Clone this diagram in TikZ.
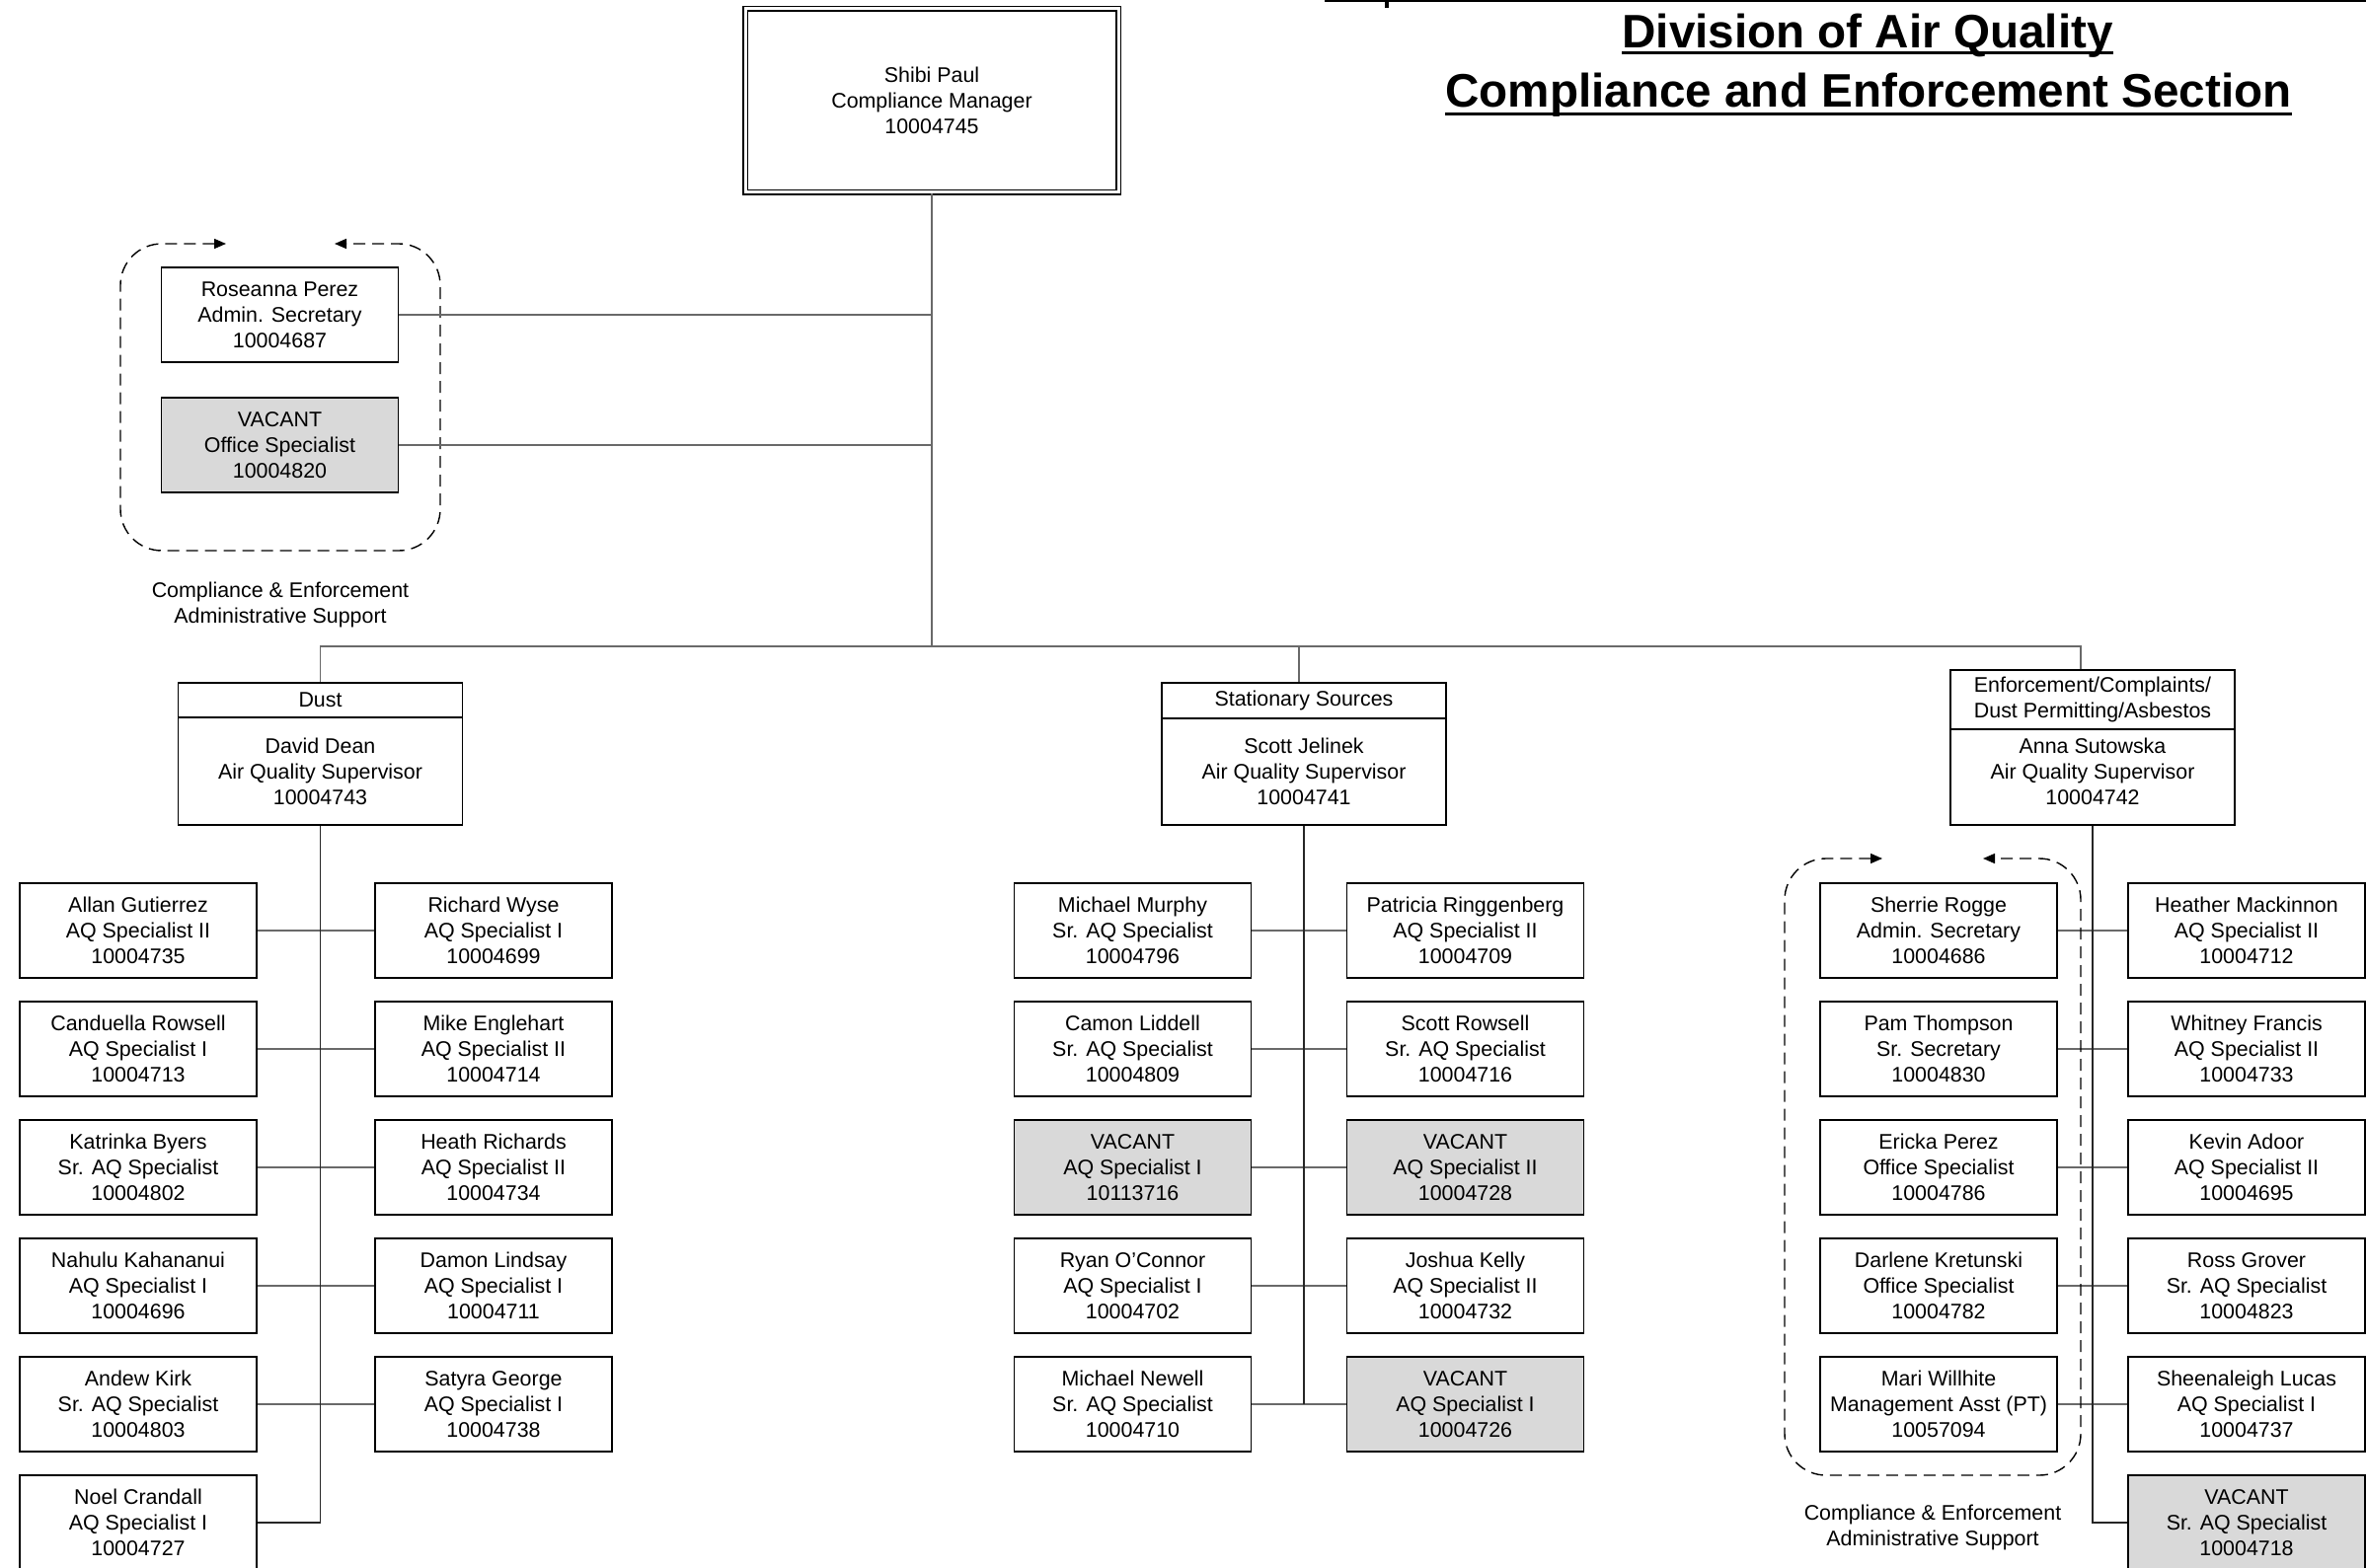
\documentclass[tikz,border=0pt]{standalone}
\usepackage{fontspec}
\setmainfont{Liberation Sans}
\usetikzlibrary{arrows.meta}
\definecolor{vacgray}{RGB}{217,217,217}
\definecolor{conngray}{RGB}{105,105,105}
\newcommand{\bodyfnt}{\fontsize{10.7pt}{13pt}\selectfont}
\newcommand{\titlefnt}{\fontsize{23.8pt}{28pt}\selectfont\bfseries}
\begin{document}
\begin{tikzpicture}[x=0.5pt,y=-0.5pt,
  box/.style={draw, line width=0.9pt, minimum width=120pt, minimum height=48pt, inner sep=0pt, align=center, font=\bodyfnt},
  vac/.style={box, fill=vacgray},
  supbox/.style={draw, line width=0.9pt, minimum width=144pt, inner sep=0pt, align=center, font=\bodyfnt},
  conn/.style={draw=conngray, line width=0.6pt},
  trunk/.style={draw=black!85, line width=0.7pt},
  grp/.style={draw, line width=0.7pt, dash pattern=on 6pt off 3.5pt, rounded corners=21pt,
    {Triangle[length=6pt,width=5pt]}-{Triangle[length=6pt,width=5pt]}},
  lbl/.style={align=center, font=\bodyfnt, inner sep=0pt},
  ttl/.style={anchor=base, inner sep=0pt, font=\titlefnt}
]
\useasboundingbox (0,0) rectangle (2397,1589);

% top rule and title
\draw[line width=1.4pt] (1342,1) -- (2397,1);
\fill (1403,0) rectangle (1407,8);
\node[ttl] (t1) at (1892,49) {Division of Air Quality};
\node[ttl] (t2) at (1893,109) {Compliance and Enforcement Section};
\draw[line width=1.6pt] ([yshift=-2.4pt]t1.base west) -- ([yshift=-2.4pt]t1.base east);
\draw[line width=1.6pt] ([yshift=-3.2pt]t2.base west) -- ([yshift=-3.2pt]t2.base east);

% manager
\node[draw, double, double distance=1.5pt, line width=0.8pt, minimum width=189pt, minimum height=93pt,
      inner sep=0pt, align=center, font=\bodyfnt] (mgr) at (944,102)
      {Shibi Paul\\Compliance Manager\\10004745};

% admin support (top left)
\node[box] (adm1) at (283.5,319) {Roseanna Perez\\Admin. Secretary\\10004687};
\node[vac] (adm2) at (283.5,451) {VACANT\\Office Specialist\\10004820};
\draw[grp] (229,247) -- (122,247) -- (122,558) -- (446,558) -- (446,247) -- (339,247);
\node[lbl] (lbl1) at (284,613) {Compliance \& Enforcement\\Administrative Support};

% supervisors
\node[supbox, minimum height=17.5pt] (dusthdr) at (324.5,709.5) {Dust};
\node[supbox, minimum height=54.5pt] (dustbody) at (324.5,781.5) {David Dean\\Air Quality Supervisor\\10004743};
\node[supbox, minimum height=18pt] (sthdr) at (1321,710) {Stationary Sources};
\node[supbox, minimum height=54pt] (stbody) at (1321,782) {Scott Jelinek\\Air Quality Supervisor\\10004741};
\node[supbox, minimum height=30pt] (enfhdr) at (2120,709) {Enforcement/Complaints/\\Dust Permitting/Asbestos};
\node[supbox, minimum height=48.5pt] (enfbody) at (2120,787.5) {Anna Sutowska\\Air Quality Supervisor\\10004742\\[-7pt]\mbox{}};

% manager connectors
\coordinate (busL) at (324.5,655);
\coordinate (busR) at (2108,655);
\draw[conn] (mgr.south) -- (mgr.south |- busL);
\draw[conn] (adm1.east) -- (adm1.east -| mgr.south);
\draw[conn] (adm2.east) -- (adm2.east -| mgr.south);
\draw[conn] (dusthdr.north) -- (busL) -- (busR) -- (busR |- enfhdr.north);
\draw[conn] ([xshift=-2.5pt]sthdr.north) -- ([xshift=-2.5pt]sthdr.north |- busL);

% Dust staff
\node[box] (d1l) at (140,943)  {Allan Gutierrez\\AQ Specialist II\\10004735};
\node[box] (d2l) at (140,1063) {Canduella Rowsell\\AQ Specialist I\\10004713};
\node[box] (d3l) at (140,1183) {Katrinka Byers\\Sr. AQ Specialist\\10004802};
\node[box] (d4l) at (140,1303) {Nahulu Kahananui\\AQ Specialist I\\10004696};
\node[box] (d5l) at (140,1423) {Andew Kirk\\Sr. AQ Specialist\\10004803};
\node[box] (d6l) at (140,1543) {Noel Crandall\\AQ Specialist I\\10004727};
\node[box] (d1r) at (500,943)  {Richard Wyse\\AQ Specialist I\\10004699};
\node[box] (d2r) at (500,1063) {Mike Englehart\\AQ Specialist II\\10004714};
\node[box] (d3r) at (500,1183) {Heath Richards\\AQ Specialist II\\10004734};
\node[box] (d4r) at (500,1303) {Damon Lindsay\\AQ Specialist I\\10004711};
\node[box] (d5r) at (500,1423) {Satyra George\\AQ Specialist I\\10004738};
\foreach \r in {1,...,5} \draw[conn] (d\r l.east) -- (d\r r.west);
\draw[trunk] (dustbody.south) -- (dustbody.south |- d6l.east) -- (d6l.east);

% Stationary staff
\node[box] (s1l) at (1147.5,943)  {Michael Murphy\\Sr. AQ Specialist\\10004796};
\node[box] (s2l) at (1147.5,1063) {Camon Liddell\\Sr. AQ Specialist\\10004809};
\node[vac] (s3l) at (1147.5,1183) {VACANT\\AQ Specialist I\\10113716};
\node[box] (s4l) at (1147.5,1303) {Ryan O’Connor\\AQ Specialist I\\10004702};
\node[box] (s5l) at (1147.5,1423) {Michael Newell\\Sr. AQ Specialist\\10004710};
\node[box] (s1r) at (1484.5,943)  {Patricia Ringgenberg\\AQ Specialist II\\10004709};
\node[box] (s2r) at (1484.5,1063) {Scott Rowsell\\Sr. AQ Specialist\\10004716};
\node[vac] (s3r) at (1484.5,1183) {VACANT\\AQ Specialist II\\10004728};
\node[box] (s4r) at (1484.5,1303) {Joshua Kelly\\AQ Specialist II\\10004732};
\node[vac] (s5r) at (1484.5,1423) {VACANT\\AQ Specialist I\\10004726};
\foreach \r in {1,...,5} \draw[conn] (s\r l.east) -- (s\r r.west);
\draw[trunk] (stbody.south) -- (stbody.south |- s5l.east);

% Enforcement staff
\node[box] (e1l) at (1964,943)  {Sherrie Rogge\\Admin. Secretary\\10004686};
\node[box] (e2l) at (1964,1063) {Pam Thompson\\Sr. Secretary\\10004830};
\node[box] (e3l) at (1964,1183) {Ericka Perez\\Office Specialist\\10004786};
\node[box] (e4l) at (1964,1303) {Darlene Kretunski\\Office Specialist\\10004782};
\node[box] (e5l) at (1964,1423) {Mari Willhite\\Management Asst (PT)\\10057094};
\node[box] (e1r) at (2276,943)  {Heather Mackinnon\\AQ Specialist II\\10004712};
\node[box] (e2r) at (2276,1063) {Whitney Francis\\AQ Specialist II\\10004733};
\node[box] (e3r) at (2276,1183) {Kevin Adoor\\AQ Specialist II\\10004695};
\node[box] (e4r) at (2276,1303) {Ross Grover\\Sr. AQ Specialist\\10004823};
\node[box] (e5r) at (2276,1423) {Sheenaleigh Lucas\\AQ Specialist I\\10004737};
\node[vac] (e6r) at (2276,1543) {VACANT\\Sr. AQ Specialist\\10004718};
\foreach \r in {1,...,5} \draw[conn] (e\r l.east) -- (e\r r.west);
\draw[trunk] (enfbody.south) -- (enfbody.south |- e6r.west) -- (e6r.west);
\draw[grp] (1907,870) -- (1808,870) -- (1808,1495) -- (2108,1495) -- (2108,870) -- (2009,870);
\node[lbl] (lbl2) at (1958,1548) {Compliance \& Enforcement\\Administrative Support};
\end{tikzpicture}
\end{document}
